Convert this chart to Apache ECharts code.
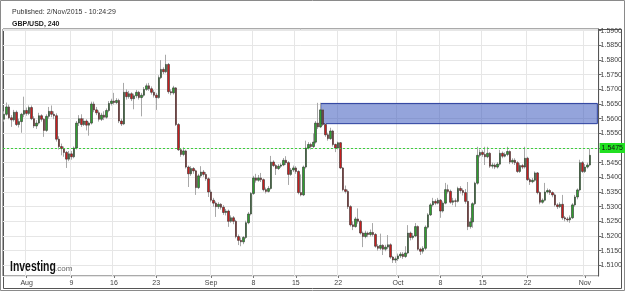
<!DOCTYPE html>
<html>
<head>
<meta charset="utf-8">
<script src="https://cdn.jsdelivr.net/npm/echarts@6/dist/echarts.min.js"></script>
<style>
html, body { margin: 0; padding: 0; background: #fff; }
#chart { width: 625px; height: 291px; }
</style>
</head>
<body>
<div id="chart"></div>
<script>
// GBP/USD 240 candles, rows are [open, close, low, high]
var ohlcAug = [
  [1.5598,1.5615,1.5590,1.5625],[1.5615,1.5640,1.5610,1.5655],[1.5640,1.5603,1.5598,1.5648],[1.5603,1.5596,1.5572,1.5612],
  [1.5596,1.5622,1.5590,1.5630],[1.5622,1.5580,1.5575,1.5628],[1.5580,1.5590,1.5570,1.5600],[1.5590,1.5615,1.5552,1.5620],
  [1.5615,1.5628,1.5605,1.5675],[1.5628,1.5618,1.5610,1.5638],[1.5618,1.5638,1.5612,1.5645],[1.5638,1.5600,1.5595,1.5645],
  [1.5600,1.5575,1.5568,1.5608],[1.5575,1.5585,1.5565,1.5595],[1.5585,1.5610,1.5580,1.5620],[1.5610,1.5598,1.5590,1.5615],
  [1.5598,1.5560,1.5538,1.5602],[1.5560,1.5608,1.5555,1.5615],[1.5608,1.5625,1.5600,1.5640],[1.5625,1.5615,1.5605,1.5645],
  [1.5615,1.5610,1.5598,1.5625],[1.5610,1.5530,1.5522,1.5618],[1.5530,1.5505,1.5495,1.5540],[1.5505,1.5498,1.5475,1.5515],
  [1.5498,1.5485,1.5470,1.5505],[1.5485,1.5462,1.5432,1.5490],[1.5462,1.5480,1.5455,1.5490],[1.5480,1.5470,1.5460,1.5490],
  [1.5470,1.5500,1.5465,1.5505],[1.5500,1.5585,1.5495,1.5592],[1.5585,1.5600,1.5575,1.5612],[1.5600,1.5580,1.5572,1.5615],
  [1.5580,1.5592,1.5575,1.5602],[1.5592,1.5578,1.5560,1.5598],[1.5578,1.5585,1.5542,1.5590],[1.5585,1.5650,1.5580,1.5658],
  [1.5650,1.5630,1.5622,1.5658],[1.5630,1.5620,1.5612,1.5640],[1.5620,1.5598,1.5590,1.5628],[1.5598,1.5612,1.5592,1.5620],
  [1.5612,1.5605,1.5595,1.5625],[1.5605,1.5628,1.5600,1.5635],[1.5628,1.5652,1.5622,1.5660],[1.5652,1.5660,1.5645,1.5668],
  [1.5660,1.5655,1.5648,1.5688],[1.5655,1.5662,1.5650,1.5670],[1.5662,1.5592,1.5585,1.5668],[1.5592,1.5582,1.5575,1.5600],
  [1.5582,1.5690,1.5578,1.5722],[1.5690,1.5675,1.5665,1.5700],[1.5675,1.5685,1.5668,1.5695],[1.5685,1.5668,1.5660,1.5690],
  [1.5668,1.5678,1.5632,1.5685],[1.5678,1.5690,1.5670,1.5698],[1.5690,1.5672,1.5665,1.5695],[1.5672,1.5680,1.5608,1.5688],
  [1.5680,1.5700,1.5675,1.5708],[1.5700,1.5712,1.5695,1.5720],[1.5712,1.5702,1.5695,1.5722],[1.5702,1.5690,1.5682,1.5710],
  [1.5690,1.5680,1.5672,1.5698],[1.5680,1.5672,1.5630,1.5688],[1.5672,1.5740,1.5668,1.5748],[1.5740,1.5768,1.5735,1.5800],
  [1.5768,1.5760,1.5752,1.5775],[1.5760,1.5785,1.5755,1.5818],[1.5785,1.5692,1.5685,1.5790],[1.5692,1.5688,1.5680,1.5700],
  [1.5688,1.5705,1.5682,1.5712],[1.5705,1.5580,1.5575,1.5708],[1.5580,1.5494,1.5490,1.5585],[1.5494,1.5478,1.5470,1.5500],
  [1.5478,1.5490,1.5472,1.5502],[1.5490,1.5435,1.5430,1.5494],[1.5435,1.5412,1.5367,1.5440],[1.5412,1.5430,1.5405,1.5438],
  [1.5430,1.5422,1.5412,1.5435],[1.5422,1.5365,1.5340,1.5426],[1.5365,1.5405,1.5360,1.5412],[1.5405,1.5418,1.5398,1.5438],
  [1.5418,1.5410,1.5402,1.5425],[1.5410,1.5395,1.5388,1.5418],[1.5395,1.5350,1.5333,1.5400]
];
var ohlcSep = [
  [1.5350,1.5322,1.5315,1.5358],[1.5322,1.5312,1.5300,1.5330],[1.5312,1.5300,1.5265,1.5318],[1.5300,1.5308,1.5292,1.5315],
  [1.5308,1.5298,1.5290,1.5312],[1.5298,1.5280,1.5272,1.5305],[1.5280,1.5285,1.5270,1.5292],[1.5285,1.5250,1.5231,1.5290],
  [1.5250,1.5262,1.5245,1.5270],[1.5262,1.5250,1.5240,1.5268],[1.5250,1.5198,1.5192,1.5255],[1.5198,1.5185,1.5169,1.5205],
  [1.5185,1.5180,1.5165,1.5195],[1.5180,1.5195,1.5172,1.5200],[1.5195,1.5245,1.5190,1.5252],[1.5245,1.5275,1.5240,1.5282],
  [1.5275,1.5345,1.5270,1.5350],[1.5345,1.5398,1.5340,1.5405],[1.5398,1.5390,1.5382,1.5412],[1.5390,1.5398,1.5385,1.5408],
  [1.5398,1.5392,1.5384,1.5415],[1.5392,1.5358,1.5352,1.5396],[1.5358,1.5352,1.5345,1.5365],[1.5352,1.5362,1.5348,1.5370],
  [1.5362,1.5452,1.5358,1.5473],[1.5452,1.5440,1.5435,1.5458],[1.5440,1.5430,1.5408,1.5445],[1.5430,1.5438,1.5425,1.5445],
  [1.5438,1.5442,1.5432,1.5448],[1.5442,1.5458,1.5438,1.5466],[1.5458,1.5450,1.5442,1.5472],[1.5450,1.5410,1.5374,1.5455],
  [1.5410,1.5425,1.5405,1.5432],[1.5425,1.5432,1.5418,1.5440],[1.5432,1.5420,1.5412,1.5438],[1.5420,1.5348,1.5342,1.5424],
  [1.5348,1.5340,1.5335,1.5410],[1.5340,1.5435,1.5336,1.5440],[1.5435,1.5500,1.5430,1.5525],[1.5500,1.5512,1.5495,1.5520],
  [1.5512,1.5505,1.5495,1.5518],[1.5505,1.5520,1.5500,1.5550],[1.5520,1.5585,1.5515,1.5592],[1.5585,1.5572,1.5565,1.5654],
  [1.5572,1.5630,1.5568,1.5654],[1.5630,1.5580,1.5575,1.5635],[1.5580,1.5545,1.5538,1.5585],[1.5545,1.5532,1.5525,1.5552],
  [1.5532,1.5558,1.5528,1.5569],[1.5558,1.5512,1.5505,1.5562],[1.5512,1.5500,1.5486,1.5515],[1.5500,1.5518,1.5495,1.5522],
  [1.5518,1.5432,1.5428,1.5520],[1.5432,1.5358,1.5352,1.5435],[1.5358,1.5352,1.5345,1.5372],[1.5352,1.5300,1.5292,1.5358],
  [1.5300,1.5238,1.5232,1.5305],[1.5238,1.5232,1.5220,1.5250],[1.5232,1.5258,1.5228,1.5265],[1.5258,1.5250,1.5242,1.5294],
  [1.5250,1.5210,1.5205,1.5255],[1.5210,1.5198,1.5162,1.5215],[1.5198,1.5210,1.5192,1.5218],[1.5210,1.5205,1.5196,1.5215],
  [1.5205,1.5212,1.5198,1.5222],[1.5212,1.5205,1.5198,1.5244],[1.5205,1.5165,1.5160,1.5210],[1.5165,1.5158,1.5150,1.5172],
  [1.5158,1.5168,1.5152,1.5208],[1.5168,1.5155,1.5135,1.5172],[1.5155,1.5162,1.5148,1.5170],[1.5162,1.5170,1.5155,1.5203],
  [1.5170,1.5128,1.5122,1.5175],[1.5128,1.5118,1.5108,1.5132],[1.5118,1.5122,1.5108,1.5130]
];
var ohlcOct = [
  [1.5122,1.5132,1.5115,1.5140],[1.5132,1.5138,1.5125,1.5145],[1.5138,1.5130,1.5122,1.5145],[1.5130,1.5142,1.5125,1.5165],
  [1.5142,1.5210,1.5138,1.5237],[1.5210,1.5195,1.5185,1.5215],[1.5195,1.5200,1.5188,1.5210],[1.5200,1.5232,1.5196,1.5244],
  [1.5232,1.5155,1.5150,1.5236],[1.5155,1.5148,1.5135,1.5160],[1.5148,1.5158,1.5140,1.5165],[1.5158,1.5230,1.5152,1.5236],
  [1.5230,1.5272,1.5225,1.5278],[1.5272,1.5306,1.5268,1.5312],[1.5306,1.5318,1.5300,1.5330],[1.5318,1.5312,1.5305,1.5325],
  [1.5312,1.5322,1.5308,1.5330],[1.5322,1.5285,1.5262,1.5326],[1.5285,1.5312,1.5280,1.5318],[1.5312,1.5358,1.5308,1.5381],
  [1.5358,1.5352,1.5345,1.5375],[1.5352,1.5315,1.5310,1.5358],[1.5315,1.5320,1.5305,1.5330],[1.5320,1.5318,1.5299,1.5328],
  [1.5318,1.5362,1.5314,1.5368],[1.5362,1.5355,1.5345,1.5370],[1.5355,1.5348,1.5338,1.5362],[1.5348,1.5318,1.5310,1.5360],
  [1.5318,1.5232,1.5220,1.5384],[1.5232,1.5248,1.5225,1.5262],[1.5248,1.5310,1.5228,1.5315],[1.5310,1.5380,1.5305,1.5385],
  [1.5380,1.5475,1.5375,1.5504],[1.5475,1.5485,1.5468,1.5495],[1.5485,1.5478,1.5470,1.5492],[1.5478,1.5470,1.5442,1.5504],
  [1.5470,1.5482,1.5465,1.5504],[1.5482,1.5438,1.5432,1.5486],[1.5438,1.5442,1.5430,1.5450],[1.5442,1.5435,1.5428,1.5448],
  [1.5435,1.5445,1.5430,1.5452],[1.5445,1.5482,1.5440,1.5494],[1.5482,1.5472,1.5465,1.5488],[1.5472,1.5478,1.5468,1.5485],
  [1.5478,1.5488,1.5472,1.5504],[1.5488,1.5452,1.5445,1.5492],[1.5452,1.5458,1.5445,1.5465],[1.5458,1.5450,1.5442,1.5465],
  [1.5450,1.5420,1.5415,1.5455],[1.5420,1.5440,1.5415,1.5448],[1.5440,1.5435,1.5428,1.5446],[1.5435,1.5465,1.5430,1.5504],
  [1.5465,1.5392,1.5388,1.5470],[1.5392,1.5385,1.5374,1.5398],[1.5385,1.5390,1.5380,1.5398],[1.5390,1.5415,1.5385,1.5420],
  [1.5415,1.5348,1.5342,1.5418],[1.5348,1.5315,1.5308,1.5352],[1.5315,1.5322,1.5310,1.5328],[1.5322,1.5350,1.5318,1.5381],
  [1.5350,1.5355,1.5345,1.5362],[1.5355,1.5348,1.5340,1.5360],[1.5348,1.5340,1.5332,1.5352],[1.5340,1.5306,1.5300,1.5345],
  [1.5306,1.5300,1.5292,1.5312],[1.5300,1.5308,1.5295,1.5315],[1.5308,1.5262,1.5255,1.5340],[1.5262,1.5258,1.5250,1.5268],
  [1.5258,1.5255,1.5248,1.5265],[1.5255,1.5262,1.5245,1.5270],[1.5262,1.5306,1.5258,1.5312],[1.5306,1.5333,1.5300,1.5340],
  [1.5333,1.5357,1.5325,1.5362],[1.5357,1.5450,1.5352,1.5460],[1.5450,1.5420,1.5415,1.5455],[1.5420,1.5435,1.5415,1.5445],
  [1.5435,1.5442,1.5430,1.5450],[1.5442,1.5475,1.5438,1.5498]
];

// x axis labels and the candle index they sit on
var tickLabels = ['Aug', '9', '16', '23', 'Sep', '8', '15', '22', 'Oct', '8', '15', '22', 'Nov'];
var tickIndex = [9, 27, 44, 61, 83, 100, 117, 134, 158, 175, 192, 210, 233];

// resistance box drawn on the chart
var zoneLow = 1.5583;
var zoneHigh = 1.5652;
var zoneStart = 127;

var padSlots = 3;

var ohlc = ohlcAug.concat(ohlcSep, ohlcOct);
var total = ohlc.length + padSlots;
var cats = [];
for (var i = 0; i < total; i++) cats.push(String(i));
// bodies without wicks, wicks drawn by a separate grey series underneath
var bodies = ohlc.map(function (d) {
  return [d[0], d[1], Math.min(d[0], d[1]), Math.max(d[0], d[1])];
});
var lastClose = ohlc[ohlc.length - 1][1];

function isTick(idx) { return tickIndex.indexOf(idx) >= 0; }

var font = "'Liberation Sans', Arial, sans-serif";

var chart = echarts.init(document.getElementById('chart'));
var option = {
  animation: false,
  backgroundColor: '#fff',
  title: [
    { text: 'Published: 2/Nov/2015 - 10:24:29', left: 7, top: 4,
      textStyle: { fontSize: 7, fontWeight: 'normal', color: '#333', fontFamily: font } },
    { text: 'GBP/USD, 240', left: 7, top: 16,
      textStyle: { fontSize: 7, fontWeight: 'bold', color: '#222', fontFamily: font } }
  ],
  grid: { left: 3, right: 26, top: 29, bottom: 15, show: true, borderColor: '#555', borderWidth: 1 },
  xAxis: {
    type: 'category',
    data: cats,
    boundaryGap: true,
    axisLine: { show: false },
    axisTick: { show: true, alignWithLabel: true, length: 2, interval: function (idx) { return isTick(idx); },
      lineStyle: { color: '#777' } },
    axisLabel: {
      interval: function (idx) { return isTick(idx); },
      formatter: function (v, idx) { return tickLabels[tickIndex.indexOf(idx)] || ''; },
      fontSize: 7, color: '#444', margin: 4, fontFamily: font
    },
    splitLine: { show: true, interval: function (idx) { return isTick(idx); }, lineStyle: { color: '#e6e6e6' } }
  },
  yAxis: {
    type: 'value',
    position: 'right',
    min: 1.50635,
    max: 1.59058,
    splitNumber: 16,
    axisLine: { show: true, lineStyle: { color: '#555' } },
    axisTick: { show: true, length: 3, lineStyle: { color: '#666' } },
    axisLabel: {
      fontSize: 7, color: '#444', margin: 2, fontFamily: font,
      showMinLabel: false, showMaxLabel: false,
      formatter: function (v) {
        var k = v / 0.005;
        return Math.abs(k - Math.round(k)) < 1e-6 ? v.toFixed(4) : '';
      }
    },
    splitLine: { show: true, lineStyle: { color: '#e6e6e6' } }
  },
  graphic: [
    { type: 'rect', shape: { x: 0.5, y: 0.5, width: 624, height: 290 }, silent: true,
      style: { fill: 'none', stroke: '#8a8a8a', lineWidth: 1 } },
    { type: 'rect', shape: { x: 3.5, y: 29.5, width: 618, height: 259 }, silent: true,
      style: { fill: 'none', stroke: '#555', lineWidth: 1 } },
    { type: 'text', x: 10, y: 259, scaleX: 0.72, silent: true, z: 10,
      style: { text: 'Investing', fontSize: 14.5, fontWeight: 'bold', fill: '#111', fontFamily: font } },
    { type: 'text', x: 55, y: 265, silent: true, z: 10,
      style: { text: '.com', fontSize: 8, fill: '#666', fontFamily: font } }
  ],
  series: [
    {
      name: 'wick',
      type: 'candlestick',
      data: ohlc,
      barWidth: 1,
      silent: true,
      itemStyle: { color: '#a8a8a8', color0: '#a8a8a8', borderColor: '#a8a8a8', borderColor0: '#a8a8a8', borderWidth: 1 },
      markArea: {
        silent: true,
        itemStyle: { color: 'rgba(60,90,190,0.55)', borderColor: '#2b3f9e', borderWidth: 1 },
        data: [[
          { xAxis: String(zoneStart), yAxis: zoneHigh },
          { xAxis: String(total - 1), yAxis: zoneLow }
        ]]
      }
    },
    {
      name: 'GBP/USD',
      type: 'candlestick',
      data: bodies,
      barWidth: 2,
      silent: true,
      itemStyle: { color: '#2f9e2f', color0: '#c81e1e', borderColor: '#333', borderColor0: '#333', borderWidth: 0.6 },
      markLine: {
        silent: true,
        symbol: ['none', 'none'],
        lineStyle: { color: '#3ccf3c', type: [2, 2], width: 1 },
        label: {
          show: true, position: 'end', distance: 1,
          formatter: lastClose.toFixed(4),
          backgroundColor: '#22e022', color: '#111', fontSize: 7, fontFamily: font,
          padding: [2, 2, 1, 2]
        },
        data: [{ yAxis: lastClose }]
      }
    }
  ]
};
option && chart.setOption(option);
</script>
</body>
</html>
